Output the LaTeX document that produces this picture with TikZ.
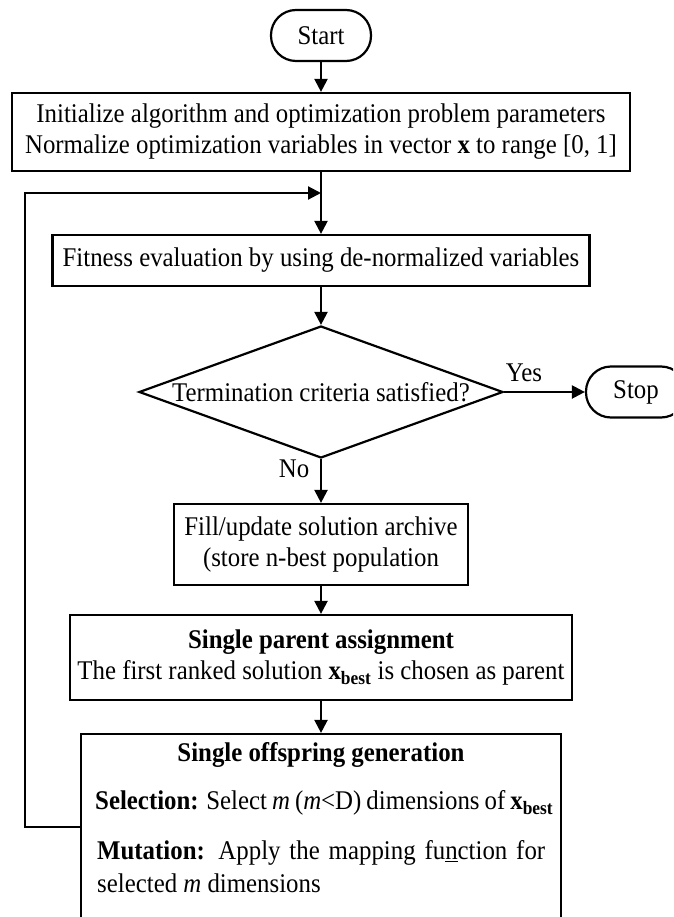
\documentclass[tikz,border=0pt]{standalone}
\usepackage{fontspec}
\setmainfont{Liberation Serif}[FakeStretch=0.92]
\usetikzlibrary{arrows.meta,shapes.geometric}
\begin{document}
\begin{tikzpicture}[x=1pt,y=-1pt,
  every node/.style={font=\fontsize{27}{31}\selectfont, inner sep=0pt},
  box/.style={draw, line width=2.2pt, align=center},
  term/.style={draw, line width=2.2pt, rounded corners=25pt, minimum width=100pt, minimum height=51pt},
  dec/.style={draw, line width=2.2pt, diamond, minimum width=364pt, minimum height=132pt},
  arr/.style={line width=2.2pt, -{Triangle[length=13pt,width=13pt]}}]
\clip (0,0) rectangle (673,917);
\node[term] (start) at (321,35.5) {Start};
\node[box, minimum width=618pt, minimum height=78pt] (init) at (321,132) {Initialize algorithm and optimization problem parameters\\Normalize optimization variables in vector \textbf{x} to range [0, 1]};
\node[box, minimum width=537pt, minimum height=51pt] (fit) at (321,260.5) {Fitness evaluation by using de-normalized variables};
\node[dec] (term) at (321,392) {\makebox[0pt]{Termination criteria satisfied?}};
\node[term] (stop) at (636,392) {Stop};
\node (yes) at (524,373) {Yes};
\node (no) at (294,469) {No};
\node[box, minimum width=294pt, minimum height=81pt] (fill) at (321,544.5) {Fill/update solution archive\\(store n-best population};
\node[box, minimum width=502pt, minimum height=85pt] (parent) at (321,657.5) {\textbf{Single parent assignment}\\The first ranked solution \textbf{x}\textsubscript{\textbf{best}} is chosen as parent};
\node[box, minimum width=480pt, minimum height=186pt] (off) at (321,827) {};
\node (offt) at (321,755) {\textbf{Single offspring generation}};
\node[anchor=west] (sel) at (95,803) {\makebox[458pt][s]{\textbf{Selection:} Select \textit{m} (\textit{m}<D) dimensions of \textbf{x}\textsubscript{\textbf{best}}}};
\node[anchor=west] (mut) at (97,853) {\makebox[448pt][s]{\textbf{Mutation:} Apply the mapping fu\underline{n}ction for}};
\node[anchor=west] (mut2) at (97,883) {selected \textit{m} dimensions};
\coordinate (merge) at (init.south |- 0,193);
\draw[arr] (start) -- (init);
\draw[arr] (init) -- (fit);
\draw[arr] (fit) -- (term);
\draw[arr] (term) -- (stop);
\draw[arr] (term) -- (fill);
\draw[arr] (fill) -- (parent);
\draw[arr] (parent) -- (off);
\draw[arr] (off.west) -- ++(-55,0) |- (merge);
\end{tikzpicture}
\end{document}
